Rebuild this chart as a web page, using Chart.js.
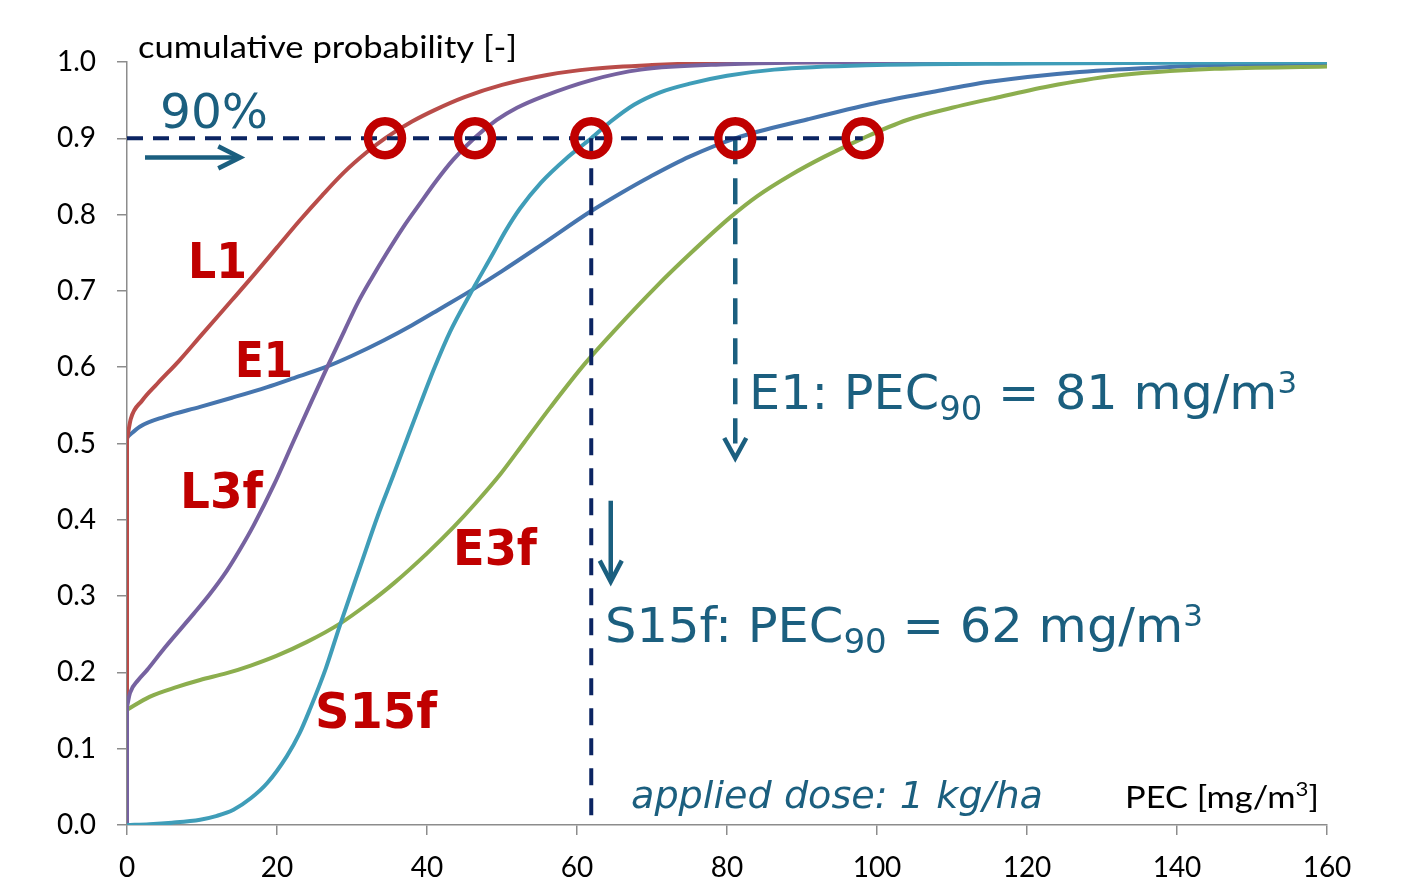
<!DOCTYPE html>
<html>
<head>
<meta charset="utf-8">
<script src="https://cdn.jsdelivr.net/npm/chart.js@4.4.1/dist/chart.umd.min.js"></script>
<style>
  body { margin: 0; background: #fff; }
  canvas { display: block; }
</style>
</head>
<body>
<canvas id="chart" width="1410" height="891"></canvas>
<script>
// PEC values [mg/m3] and cumulative probabilities
const l1X = [0, 0, 0.5, 2, 4, 7, 10, 14, 17, 20, 23, 26, 29, 32, 34.4, 38, 41, 45, 50, 56, 62, 70, 80, 100, 160];
const l1Y = [0, 0.505, 0.532, 0.556, 0.578, 0.609, 0.643, 0.688, 0.722, 0.757, 0.792, 0.825, 0.856, 0.882, 0.9, 0.922, 0.937, 0.954, 0.97, 0.983, 0.991, 0.996, 0.999, 1, 1];

const e1X = [0, 0, 1.7, 5, 9.75, 14, 18.7, 22, 26.7, 30, 34.2, 38, 42, 45.8, 50, 55.2, 61.8, 66, 69.8, 75, 81.1, 90.8, 99.7, 107, 115, 127, 140, 150, 160];
const e1Y = [0, 0.508, 0.522, 0.535, 0.548, 0.56, 0.574, 0.585, 0.601, 0.615, 0.635, 0.655, 0.678, 0.7, 0.726, 0.76, 0.804, 0.829, 0.85, 0.876, 0.9, 0.925, 0.946, 0.96, 0.974, 0.987, 0.994, 0.997, 0.998];

const l3fX = [0, 0, 0.4, 1.5, 2.67, 5, 8.9, 11, 13.3, 15, 16.9, 19.6, 22.2, 24.5, 26.7, 29, 30.8, 32.7, 34.6, 36.8, 39.1, 41.3, 43.5, 46.4, 49.3, 52, 55.5, 61.8, 68.5, 80, 100, 160];
const l3fY = [0, 0.155, 0.173, 0.19, 0.203, 0.232, 0.277, 0.302, 0.333, 0.36, 0.393, 0.446, 0.503, 0.553, 0.6, 0.648, 0.685, 0.718, 0.749, 0.783, 0.815, 0.845, 0.872, 0.901, 0.924, 0.94, 0.955, 0.976, 0.99, 0.997, 1, 1];

const s15fX = [0, 3, 6, 9.75, 12, 14.2, 16.5, 18.7, 21.3, 23, 24.4, 26.5, 28.4, 31.1, 33.5, 35.5, 37.3, 39, 40.9, 43.1, 45.7, 48.8, 50.5, 52.4, 55.2, 58.5, 61.9, 64.5, 67.6, 71, 75.2, 80, 86.3, 100, 120, 140, 160];
const s15fY = [0, 0.001, 0.003, 0.007, 0.012, 0.02, 0.035, 0.055, 0.09, 0.12, 0.152, 0.205, 0.262, 0.339, 0.407, 0.458, 0.505, 0.549, 0.597, 0.647, 0.695, 0.749, 0.779, 0.808, 0.842, 0.873, 0.9, 0.922, 0.944, 0.96, 0.972, 0.982, 0.99, 0.996, 0.998, 0.999, 1];

const e3fX = [0, 0, 3, 6.7, 9.75, 13.3, 16.5, 20, 24, 28.4, 32, 35.6, 40, 43.6, 46.5, 49.8, 53, 56.5, 61, 65, 70.7, 75, 80.5, 84, 88.5, 93, 98.1, 104, 110, 115.3, 122.8, 131.7, 145, 160];
const e3fY = [0, 0.151, 0.168, 0.181, 0.19, 0.199, 0.209, 0.222, 0.24, 0.264, 0.289, 0.317, 0.356, 0.391, 0.422, 0.46, 0.502, 0.548, 0.604, 0.648, 0.707, 0.748, 0.797, 0.824, 0.852, 0.876, 0.9, 0.924, 0.94, 0.952, 0.968, 0.982, 0.991, 0.994];

// 90th percentiles (where each curve crosses 0.9)
const pec90 = [34.4, 46.4, 61.9, 81.1, 98.1];
const level90 = 0.9;

const xTicks = [0, 20, 40, 60, 80, 100, 120, 140, 160];

const pts = (xs, ys) => xs.map((x, i) => ({x: x, y: ys[i]}));

const teal = "#1b5f7f";
const navy = "#0b2462";
const red = "#c00000";

// a curve is its jump at zero (first two points) plus the smooth rest
function curve(xs, ys, color) {
    const line = {
        data: pts(xs, ys).slice(xs[1] === 0 ? 1 : 0),
        borderColor: color,
        borderWidth: 4,
        pointRadius: 0,
        cubicInterpolationMode: "monotone",
        order: 2
    };
    if (xs[1] !== 0) return [line];
    return [line, {
        data: pts(xs.slice(0, 2), ys.slice(0, 2)),
        borderColor: color,
        borderWidth: 4,
        pointRadius: 0,
        order: 2
    }];
}

// draws text pieces stretched to the width seen in the picture
function fitText(ctx, parts, left, baseline, width, color) {
    let natural = 0;
    parts.forEach(p => { ctx.font = p.font; natural += ctx.measureText(p.t).width; });
    ctx.save();
    ctx.translate(left, baseline);
    ctx.scale(width / natural, 1);
    ctx.fillStyle = color;
    ctx.textBaseline = "alphabetic";
    ctx.textAlign = "left";
    let x = 0;
    parts.forEach(p => {
        ctx.font = p.font;
        ctx.fillText(p.t, x, p.dy || 0);
        x += ctx.measureText(p.t).width;
    });
    ctx.restore();
}

function arrowHead(ctx, tx, ty, dir, len, half) {
    ctx.beginPath();
    if (dir === "right") {
        ctx.moveTo(tx - len, ty - half); ctx.lineTo(tx, ty); ctx.lineTo(tx - len, ty + half);
    } else {
        ctx.moveTo(tx - half, ty - len); ctx.lineTo(tx, ty); ctx.lineTo(tx + half, ty - len);
    }
    ctx.stroke();
}

const notes = {
    id: "notes",
    afterDatasetsDraw(chart) {
        const ctx = chart.ctx;
        const xs = chart.scales.x, ys = chart.scales.y;
        ctx.save();
        ctx.strokeStyle = teal;
        ctx.lineWidth = 4.5;
        ctx.lineJoin = "miter";
        // horizontal arrow under "90%"
        let y = ys.getPixelForValue(0.875);
        let x1 = xs.getPixelForValue(2.4), x2 = xs.getPixelForValue(15.1);
        ctx.beginPath(); ctx.moveTo(x1, y); ctx.lineTo(x2 - 2, y); ctx.stroke();
        arrowHead(ctx, x2, y, "right", 22, 11);
        // arrow next to the S15f line
        let x = xs.getPixelForValue(64.5);
        let y1 = ys.getPixelForValue(0.425), y2 = ys.getPixelForValue(0.319);
        ctx.beginPath(); ctx.moveTo(x, y1); ctx.lineTo(x, y2 - 2); ctx.stroke();
        arrowHead(ctx, x, y2, "down", 21, 11);
        // head of the dashed E1 line
        arrowHead(ctx, xs.getPixelForValue(pec90[3]), ys.getPixelForValue(0.481), "down", 20, 11);
        ctx.restore();

        const dv = '"DejaVu Sans", Verdana, sans-serif';
        const cal = 'Lato, "Open Sans", sans-serif';
        fitText(ctx, [{t: "90%", font: "48px " + dv}], 160, 128, 108, teal);
        fitText(ctx, [{t: "L1", font: "bold 50px " + dv}], 188, 278, 59, red);
        fitText(ctx, [{t: "E1", font: "bold 50px " + dv}], 235, 377, 58, red);
        fitText(ctx, [{t: "L3f", font: "bold 50px " + dv}], 180, 508, 83, red);
        fitText(ctx, [{t: "E3f", font: "bold 50px " + dv}], 453, 565, 84, red);
        fitText(ctx, [{t: "S15f", font: "bold 50px " + dv}], 315, 728, 122, red);

        fitText(ctx, [
            {t: "E1: PEC", font: "48px " + dv},
            {t: "90", font: "33px " + dv, dy: 11},
            {t: " = 81 mg/m", font: "48px " + dv},
            {t: "3", font: "30px " + dv, dy: -16}
        ], 749, 409, 548, teal);
        fitText(ctx, [
            {t: "S15f: PEC", font: "48px " + dv},
            {t: "90", font: "33px " + dv, dy: 11},
            {t: " = 62 mg/m", font: "48px " + dv},
            {t: "3", font: "30px " + dv, dy: -16}
        ], 605, 642, 598, teal);

        fitText(ctx, [{t: "cumulative probability [-]", font: "31px " + cal}], 138, 58, 379, "#000");
        fitText(ctx, [{t: "applied dose: 1 kg/ha", font: "italic 38px " + dv}], 631, 808, 412, teal);
        fitText(ctx, [
            {t: "PEC [mg/m", font: "31px " + cal},
            {t: "3", font: "20px " + cal, dy: -12},
            {t: "]", font: "31px " + cal}
        ], 1125, 808, 194, "#000");
    }
};

const chart = new Chart(document.querySelector("#chart"), {
    type: "line",
    data: {
        datasets: [
            {
                type: "scatter",
                data: pec90.map(v => ({x: v, y: level90})),
                pointRadius: 17,
                pointBorderWidth: 8.5,
                pointBorderColor: red,
                pointBackgroundColor: "rgba(0,0,0,0)",
                showLine: false,
                order: 0
            },
            {
                data: [{x: 0, y: level90}, {x: pec90[4], y: level90}],
                borderColor: navy, borderWidth: 4, borderDash: [16, 10],
                pointRadius: 0, order: 1
            },
            {
                data: [{x: pec90[2], y: level90}, {x: pec90[2], y: 0}],
                borderColor: navy, borderWidth: 4, borderDash: [17, 13],
                pointRadius: 0, order: 1
            },
            {
                data: [{x: pec90[3], y: level90}, {x: pec90[3], y: 0.5}],
                borderColor: teal, borderWidth: 4.5, borderDash: [26, 14],
                pointRadius: 0, order: 1
            },
            ...curve(s15fX, s15fY, "#3f9db8"),
            ...curve(l3fX, l3fY, "#7662a0"),
            ...curve(e3fX, e3fY, "#8cae4e"),
            ...curve(l1X, l1Y, "#b94c49"),
            ...curve(e1X, e1Y, "#4675ae")
        ]
    },
    options: {
        responsive: false,
        devicePixelRatio: 1,
        animation: false,
        layout: { padding: { top: 62, right: 83, left: 0, bottom: 0 } },
        plugins: { legend: { display: false }, tooltip: { enabled: false } },
        scales: {
            x: {
                type: "linear", min: 0, max: 160,
                afterBuildTicks: s => { s.ticks = xTicks.map(v => ({value: v})); },
                ticks: { font: { family: "Lato", size: 28 }, color: "#000", padding: 16, maxRotation: 0, autoSkip: false },
                grid: { drawOnChartArea: false, tickLength: 10, color: "#8c8c8c", lineWidth: 1.5 },
                border: { color: "#8c8c8c", width: 1.5 },
                afterFit: s => { s.height = 66; }
            },
            y: {
                min: 0, max: 1,
                ticks: { stepSize: 0.1, callback: v => v.toFixed(1), font: { family: "Lato", size: 28 }, color: "#000", padding: 21 },
                grid: { drawOnChartArea: false, tickLength: 10, color: "#8c8c8c", lineWidth: 1.5 },
                border: { color: "#8c8c8c", width: 1.5 },
                afterFit: s => { s.width = 127; }
            }
        }
    },
    plugins: [notes]
});
</script>
</body>
</html>
